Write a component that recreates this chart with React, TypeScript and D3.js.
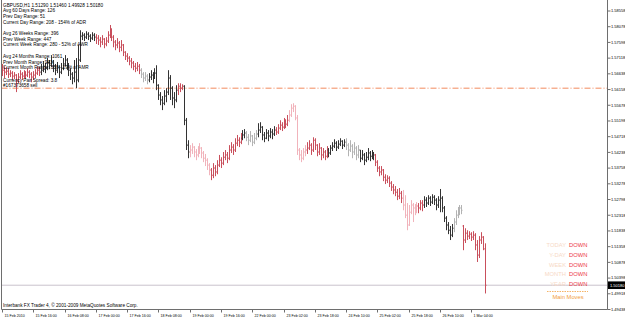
import React from "react";
import * as d3 from "d3";

// ---------- data ----------
const headerText = "GBPUSD,H1  1.51290 1.51460 1.49928 1.50180";
const infoLines = [
  "Avg 60 Days Range: 126",
  "Prev Day Range: 51",
  "Current Day Range: 208 - 154% of ADR",
  "Avg 26 Weeks Range: 396",
  "Prev Week Range: 447",
  "Current Week Range: 280 - 52% of AWR",
  "Avg 24 Months Range: 1061",
  "Prev Month Range: 943",
  "Current Month Range: 308 - 29% of AMR",
  "Currency Pair Spread: 3.8",
];
const orderLabel = "#167373658 sell";
const orderPrice = 1.562;
const bidPrice = 1.5018;
const bidLabel = "1.50180";
const copyright = "Interbank FX Trader 4, \u00a9 2001-2009 MetaQuotes Software Corp.";

const barOpen = [
  1.5666,1.5675,1.5669,1.5672,1.5663,1.5666,1.5657,1.5660,1.5645,1.5654,
  1.5663,1.5657,1.5666,1.5660,1.5669,1.5663,1.5654,1.5660,1.5666,1.5675,
  1.5669,1.5675,1.5687,1.5681,1.5697,1.5690,1.5700,1.5687,1.5675,1.5684,
  1.5669,1.5681,1.5694,1.5706,1.5690,1.5675,1.5663,1.5651,1.5669,1.5645,
  1.5706,1.5779,1.5782,1.5776,1.5785,1.5779,1.5773,1.5782,1.5776,1.5773,
  1.5767,1.5761,1.5770,1.5755,1.5764,1.5782,1.5797,1.5776,1.5761,1.5752,
  1.5758,1.5745,1.5752,1.5730,1.5718,1.5712,1.5703,1.5697,1.5687,1.5681,
  1.5687,1.5675,1.5663,1.5651,1.5657,1.5645,1.5654,1.5660,1.5651,1.5666,
  1.5629,1.5599,1.5584,1.5574,1.5596,1.5608,1.5651,1.5620,1.5590,1.5584,
  1.5614,1.5626,1.5620,1.5626,1.5522,1.5446,1.5425,1.5431,1.5440,1.5425,
  1.5416,1.5431,1.5437,1.5422,1.5406,1.5400,1.5385,1.5370,1.5354,1.5376,
  1.5364,1.5385,1.5400,1.5391,1.5409,1.5416,1.5406,1.5431,1.5440,1.5431,
  1.5452,1.5461,1.5455,1.5467,1.5477,1.5483,1.5470,1.5461,1.5474,1.5455,
  1.5467,1.5480,1.5492,1.5501,1.5477,1.5467,1.5483,1.5474,1.5486,1.5480,
  1.5492,1.5486,1.5498,1.5507,1.5501,1.5516,1.5510,1.5522,1.5538,1.5559,
  1.5565,1.5529,1.5431,1.5416,1.5406,1.5425,1.5431,1.5437,1.5446,1.5431,
  1.5461,1.5446,1.5425,1.5437,1.5416,1.5425,1.5412,1.5431,1.5422,1.5437,
  1.5443,1.5452,1.5440,1.5449,1.5458,1.5446,1.5455,1.5446,1.5431,1.5443,
  1.5425,1.5437,1.5416,1.5431,1.5406,1.5416,1.5400,1.5409,1.5422,1.5412,
  1.5419,1.5416,1.5394,1.5376,1.5364,1.5370,1.5348,1.5339,1.5345,1.5330,
  1.5318,1.5309,1.5302,1.5290,1.5299,1.5284,1.5263,1.5232,1.5202,1.5241,
  1.5263,1.5254,1.5247,1.5260,1.5254,1.5269,1.5263,1.5278,1.5269,1.5284,
  1.5272,1.5287,1.5278,1.5263,1.5278,1.5284,1.5254,1.5223,1.5202,1.5186,
  1.5171,1.5192,1.5211,1.5232,1.5241,1.5254,1.5199,1.5156,1.5177,1.5168,
  1.5174,1.5165,1.5171,1.5141,1.5110,1.5156,1.5165,1.5129,
];
const barHigh = [
  1.5694,1.5687,1.5684,1.5681,1.5675,1.5672,1.5669,1.5663,1.5666,1.5675,
  1.5669,1.5675,1.5672,1.5681,1.5675,1.5669,1.5672,1.5678,1.5687,1.5684,
  1.5694,1.5703,1.5697,1.5712,1.5706,1.5721,1.5706,1.5694,1.5700,1.5690,
  1.5697,1.5712,1.5721,1.5712,1.5697,1.5681,1.5669,1.5706,1.5712,1.5752,
  1.5797,1.5791,1.5788,1.5794,1.5791,1.5785,1.5791,1.5788,1.5785,1.5782,
  1.5776,1.5782,1.5773,1.5776,1.5794,1.5813,1.5803,1.5782,1.5767,1.5773,
  1.5764,1.5767,1.5755,1.5733,1.5727,1.5718,1.5712,1.5703,1.5697,1.5700,
  1.5694,1.5681,1.5669,1.5669,1.5663,1.5666,1.5675,1.5669,1.5681,1.5690,
  1.5632,1.5608,1.5596,1.5614,1.5620,1.5675,1.5660,1.5626,1.5608,1.5629,
  1.5635,1.5635,1.5632,1.5629,1.5529,1.5461,1.5446,1.5452,1.5443,1.5434,
  1.5443,1.5452,1.5440,1.5428,1.5419,1.5406,1.5391,1.5376,1.5391,1.5385,
  1.5400,1.5416,1.5409,1.5425,1.5431,1.5425,1.5446,1.5455,1.5449,1.5467,
  1.5477,1.5470,1.5483,1.5492,1.5495,1.5489,1.5480,1.5489,1.5477,1.5483,
  1.5492,1.5513,1.5516,1.5504,1.5486,1.5495,1.5492,1.5498,1.5495,1.5504,
  1.5501,1.5510,1.5522,1.5516,1.5529,1.5525,1.5538,1.5553,1.5571,1.5574,
  1.5568,1.5538,1.5437,1.5431,1.5437,1.5446,1.5455,1.5461,1.5452,1.5470,
  1.5467,1.5449,1.5452,1.5440,1.5437,1.5431,1.5443,1.5437,1.5446,1.5455,
  1.5464,1.5458,1.5461,1.5467,1.5461,1.5464,1.5467,1.5452,1.5461,1.5449,
  1.5455,1.5443,1.5446,1.5431,1.5431,1.5422,1.5425,1.5437,1.5428,1.5431,
  1.5425,1.5419,1.5400,1.5382,1.5382,1.5373,1.5357,1.5354,1.5351,1.5336,
  1.5327,1.5321,1.5312,1.5315,1.5306,1.5309,1.5293,1.5269,1.5263,1.5278,
  1.5269,1.5266,1.5272,1.5269,1.5278,1.5278,1.5290,1.5287,1.5293,1.5290,
  1.5296,1.5293,1.5284,1.5290,1.5312,1.5290,1.5260,1.5229,1.5211,1.5199,
  1.5205,1.5223,1.5247,1.5257,1.5263,1.5263,1.5202,1.5192,1.5186,1.5183,
  1.5180,1.5183,1.5177,1.5156,1.5168,1.5180,1.5168,1.5146,
];
const barLow = [
  1.5657,1.5651,1.5660,1.5651,1.5654,1.5645,1.5648,1.5608,1.5635,1.5648,
  1.5645,1.5651,1.5648,1.5654,1.5651,1.5638,1.5645,1.5651,1.5660,1.5657,
  1.5660,1.5669,1.5666,1.5675,1.5678,1.5684,1.5669,1.5660,1.5666,1.5651,
  1.5663,1.5675,1.5687,1.5675,1.5657,1.5645,1.5632,1.5638,1.5620,1.5638,
  1.5700,1.5767,1.5764,1.5770,1.5767,1.5761,1.5767,1.5764,1.5755,1.5752,
  1.5745,1.5752,1.5742,1.5748,1.5758,1.5773,1.5764,1.5745,1.5736,1.5742,
  1.5730,1.5733,1.5718,1.5706,1.5700,1.5690,1.5681,1.5675,1.5669,1.5672,
  1.5663,1.5651,1.5638,1.5642,1.5632,1.5638,1.5645,1.5635,1.5648,1.5614,
  1.5584,1.5568,1.5553,1.5568,1.5577,1.5599,1.5584,1.5568,1.5559,1.5577,
  1.5599,1.5608,1.5614,1.5507,1.5431,1.5406,1.5409,1.5419,1.5409,1.5400,
  1.5409,1.5419,1.5406,1.5394,1.5382,1.5370,1.5354,1.5339,1.5345,1.5351,
  1.5357,1.5379,1.5376,1.5385,1.5400,1.5391,1.5400,1.5422,1.5416,1.5425,
  1.5443,1.5440,1.5449,1.5461,1.5467,1.5458,1.5446,1.5455,1.5443,1.5449,
  1.5461,1.5470,1.5483,1.5461,1.5455,1.5464,1.5458,1.5467,1.5464,1.5474,
  1.5477,1.5480,1.5492,1.5489,1.5495,1.5498,1.5504,1.5516,1.5532,1.5547,
  1.5522,1.5416,1.5400,1.5394,1.5400,1.5412,1.5419,1.5431,1.5416,1.5425,
  1.5431,1.5412,1.5416,1.5400,1.5406,1.5400,1.5406,1.5409,1.5416,1.5428,
  1.5437,1.5428,1.5434,1.5443,1.5434,1.5440,1.5431,1.5412,1.5425,1.5406,
  1.5416,1.5400,1.5406,1.5394,1.5400,1.5385,1.5394,1.5400,1.5397,1.5403,
  1.5400,1.5382,1.5364,1.5351,1.5354,1.5336,1.5327,1.5330,1.5318,1.5306,
  1.5296,1.5290,1.5278,1.5281,1.5269,1.5247,1.5223,1.5186,1.5199,1.5235,
  1.5211,1.5232,1.5238,1.5238,1.5247,1.5244,1.5254,1.5257,1.5263,1.5260,
  1.5266,1.5263,1.5247,1.5254,1.5241,1.5241,1.5211,1.5186,1.5174,1.5156,
  1.5165,1.5180,1.5202,1.5223,1.5232,1.5235,1.5125,1.5147,1.5156,1.5159,
  1.5153,1.5156,1.5125,1.5089,1.5101,1.5144,1.5125,1.49928,
];
const barClose = [
  1.5675,1.5669,1.5672,1.5663,1.5666,1.5657,1.5660,1.5645,1.5654,1.5663,
  1.5657,1.5666,1.5660,1.5669,1.5663,1.5654,1.5660,1.5666,1.5675,1.5669,
  1.5675,1.5687,1.5681,1.5697,1.5690,1.5700,1.5687,1.5675,1.5684,1.5669,
  1.5681,1.5694,1.5706,1.5690,1.5675,1.5663,1.5651,1.5669,1.5645,1.5706,
  1.5779,1.5782,1.5776,1.5785,1.5779,1.5773,1.5782,1.5776,1.5773,1.5767,
  1.5761,1.5770,1.5755,1.5764,1.5782,1.5797,1.5776,1.5761,1.5752,1.5758,
  1.5745,1.5752,1.5730,1.5718,1.5712,1.5703,1.5697,1.5687,1.5681,1.5687,
  1.5675,1.5663,1.5651,1.5657,1.5645,1.5654,1.5660,1.5651,1.5666,1.5629,
  1.5599,1.5584,1.5574,1.5596,1.5608,1.5651,1.5620,1.5590,1.5584,1.5614,
  1.5626,1.5620,1.5626,1.5522,1.5446,1.5425,1.5431,1.5440,1.5425,1.5416,
  1.5431,1.5437,1.5422,1.5406,1.5400,1.5385,1.5370,1.5354,1.5376,1.5364,
  1.5385,1.5400,1.5391,1.5409,1.5416,1.5406,1.5431,1.5440,1.5431,1.5452,
  1.5461,1.5455,1.5467,1.5477,1.5483,1.5470,1.5461,1.5474,1.5455,1.5467,
  1.5480,1.5492,1.5501,1.5477,1.5467,1.5483,1.5474,1.5486,1.5480,1.5492,
  1.5486,1.5498,1.5507,1.5501,1.5516,1.5510,1.5522,1.5538,1.5559,1.5565,
  1.5529,1.5431,1.5416,1.5406,1.5425,1.5431,1.5437,1.5446,1.5431,1.5461,
  1.5446,1.5425,1.5437,1.5416,1.5425,1.5412,1.5431,1.5422,1.5437,1.5443,
  1.5452,1.5440,1.5449,1.5458,1.5446,1.5455,1.5446,1.5431,1.5443,1.5425,
  1.5437,1.5416,1.5431,1.5406,1.5416,1.5400,1.5409,1.5422,1.5412,1.5419,
  1.5416,1.5394,1.5376,1.5364,1.5370,1.5348,1.5339,1.5345,1.5330,1.5318,
  1.5309,1.5302,1.5290,1.5299,1.5284,1.5263,1.5232,1.5202,1.5241,1.5263,
  1.5254,1.5247,1.5260,1.5254,1.5269,1.5263,1.5278,1.5269,1.5284,1.5272,
  1.5287,1.5278,1.5263,1.5278,1.5284,1.5254,1.5223,1.5202,1.5186,1.5171,
  1.5192,1.5211,1.5232,1.5241,1.5254,1.5247,1.5156,1.5177,1.5168,1.5174,
  1.5165,1.5171,1.5141,1.5110,1.5156,1.5165,1.5129,1.5018,
];
// bar colour classes: k = dark, g = grey, r = red, p = pink
const colorRuns: [string, number][] = [
  ["r", 20], ["k", 28], ["r", 23], ["g", 4], ["k", 15], ["r", 3], ["k", 3], ["p", 11],
  ["r", 16], ["k", 2], ["g", 6], ["k", 9], ["r", 7], ["p", 9], ["r", 11], ["k", 9],
  ["g", 7], ["k", 8], ["r", 14], ["p", 8], ["r", 3], ["k", 15], ["g", 5], ["r", 12],
];

const yTickValues = [
  1.58558, 1.58078, 1.57598, 1.57118, 1.56638, 1.56158, 1.55678, 1.55198, 1.54718, 1.54238,
  1.53758, 1.53278, 1.52798, 1.52318, 1.51838, 1.51358, 1.50878, 1.50398, 1.49918, 1.49438,
];
const xTickLabels = [
  "15 Feb 2010", "15 Feb 16:00", "16 Feb 08:00", "17 Feb 00:00", "17 Feb 16:00", "18 Feb 08:00",
  "19 Feb 00:00", "19 Feb 16:00", "22 Feb 00:00", "23 Feb 02:00", "23 Feb 18:00", "24 Feb 10:00",
  "25 Feb 02:00", "25 Feb 18:00", "26 Feb 10:00", "1 Mar 04:00",
];
const xTickBars = [0, 16, 32, 48, 64, 80, 96, 112, 128, 144, 160, 176, 192, 208, 224, 240];

const moveLabels = ["TODAY", "Y-DAY", "WEEK", "MONTH", "YEAR"];
const moveValues = ["DOWN", "DOWN", "DOWN", "DOWN", "DOWN"];
const movesTitle = "Main Moves";

// ---------- layout / style ----------
const W = 625, H = 319;
const LEFT = 1.5, RIGHT = 607.5, BOTTOM = 309.5;
const FONT = "'Liberation Sans', Arial, sans-serif";
const COLORS: Record<string, string> = { k: "#333333", g: "#b3b3b3", r: "#c94f5c", p: "#f1b3bb" };
const infoY = [6.8, 12.4, 17.8, 23.6, 35, 40.6, 46, 58.4, 64, 69.4, 81.7, 86.8];

export default function App() {
  const n = barClose.length;
  const x = d3.scaleLinear().domain([0, n - 1]).range([2, 484.9]);
  const y = d3.scaleLinear().domain([1.49438, 1.58558]).range([309.5, 11]);
  const barColor = colorRuns.flatMap(([c, k]) => Array(k).fill(c));

  const bars = barClose.map((c, i) => {
    const bx = Math.round(x(i)) + 0.5;
    const d = `M${bx},${y(barHigh[i])}V${y(barLow[i])}M${bx - 1},${y(barOpen[i])}H${bx}M${bx},${y(c)}H${bx + 1}`;
    return <path key={i} d={d} stroke={COLORS[barColor[i]]} strokeWidth={1} fill="none" />;
  });

  const allInfo = [headerText, ...infoLines, orderLabel];
  const bidY = y(bidPrice);
  const orderY = y(orderPrice);

  return (
    <svg width={W} height={H} style={{ position: "absolute", left: 0, top: 0, background: "#fff" }}
      fontFamily={FONT}>
      <rect x={0} y={0} width={W} height={H} fill="#fff" />
      {/* bid line */}
      <line x1={LEFT} x2={RIGHT} y1={bidY} y2={bidY} stroke="#c9c3cc" strokeWidth={1} />
      {/* order line */}
      <line x1={LEFT} x2={RIGHT} y1={orderY} y2={orderY} stroke="#f28a5e" strokeWidth={1}
        strokeDasharray="6,2,1,2" />
      {bars}
      {/* info text */}
      {allInfo.map((t, i) => (
        <text key={i} x={3} y={infoY[i]} fontSize={4.7} fill="#000">{t}</text>
      ))}
      <text x={3} y={306.5} fontSize={4.7} fill="#000">{copyright}</text>
      {/* main moves panel */}
      {moveLabels.map((t, i) => (
        <g key={t}>
          <text x={566} y={247 + i * 9.75} fontSize={5.8} fill="#f7d9c6" textAnchor="end">{t}</text>
          <text x={569} y={247 + i * 9.75} fontSize={5.8} fill="#ec3a48">{moveValues[i]}</text>
        </g>
      ))}
      <line x1={547} x2={588} y1={291.5} y2={291.5} stroke="#f2a040" strokeWidth={0.8} strokeDasharray="1.5,1" />
      <text x={568} y={299} fontSize={5.8} fill="#f2a040" textAnchor="middle">{movesTitle}</text>
      {/* frame */}
      <path d={`M${LEFT},0V${BOTTOM}H${RIGHT}V0`} fill="none" stroke="#6e6e6e" strokeWidth={1} />
      {/* y axis */}
      {yTickValues.map((v) => (
        <g key={v}>
          <line x1={RIGHT} x2={RIGHT + 3} y1={y(v)} y2={y(v)} stroke="#6e6e6e" />
          <text x={611} y={y(v) + 1.3} fontSize={4} fill="#000">{v.toFixed(5)}</text>
        </g>
      ))}
      <rect x={RIGHT + 0.5} y={bidY - 3.8} width={W - RIGHT} height={7.6} fill="#000" />
      <text x={610} y={bidY + 1.4} fontSize={4} fill="#fff">{bidLabel}</text>
      {/* x axis */}
      {xTickBars.map((b, i) => {
        const tx = Math.round(x(b)) + 0.5;
        return (
          <g key={b}>
            <line x1={tx} x2={tx} y1={BOTTOM} y2={BOTTOM + 3} stroke="#6e6e6e" />
            <text x={tx + 2} y={316.5} fontSize={3.6} fill="#000">{xTickLabels[i]}</text>
          </g>
        );
      })}
    </svg>
  );
}
